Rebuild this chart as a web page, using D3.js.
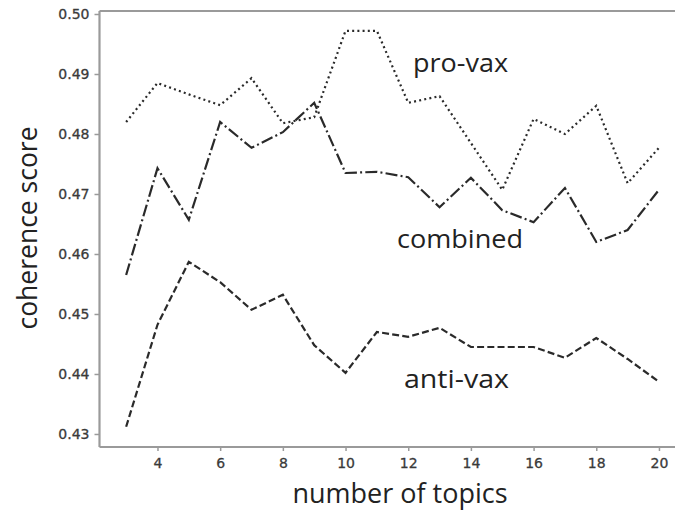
<!DOCTYPE html>
<html><head><meta charset="utf-8">
<script src="https://cdn.jsdelivr.net/npm/d3@7"></script>
<style>body{margin:0;background:#fff;}svg{display:block;}</style>
</head><body>
<script>
const topics = [3,4,5,6,7,8,9,10,11,12,13,14,15,16,17,18,19,20];
const proVax = [0.4820,0.4885,0.4866,0.4848,0.4893,0.4818,0.4828,0.4972,0.4972,0.4852,0.4863,0.4785,0.4707,0.4825,0.4800,0.4847,0.4718,0.4777];
const combined = [0.4565,0.4743,0.4657,0.4820,0.4777,0.4803,0.4852,0.4735,0.4737,0.4728,0.4678,0.4727,0.4673,0.4653,0.4710,0.4620,0.4640,0.4707];
const antiVax = [0.4312,0.4482,0.4587,0.4553,0.4507,0.4532,0.4448,0.4402,0.4470,0.4462,0.4477,0.4445,0.4445,0.4445,0.4427,0.4460,0.4425,0.4387];
const xTicks = [4,6,8,10,12,14,16,18,20];
const yTicks = [0.43,0.44,0.45,0.46,0.47,0.48,0.49,0.50];
const seriesLabels = ["pro-vax","combined","anti-vax"];

const W=675,H=511;
const svg=d3.select("body").append("svg").attr("width",W).attr("height",H);
const x=d3.scaleLinear().domain([2.15,20.85]).range([99.5,685.6]);
const y=d3.scaleLinear().domain([0.42783,0.5005]).range([447,11]);
const spine="#9a9a9a";

// axes
const xa=svg.append("g").attr("transform","translate(0,447)")
  .call(d3.axisBottom(x).tickValues(xTicks).tickFormat(d3.format("d")).tickSize(4).tickPadding(7));
const ya=svg.append("g").attr("transform","translate(99.5,0)")
  .call(d3.axisLeft(y).tickValues(yTicks).tickFormat(d3.format(".2f")).tickSize(5).tickPadding(5));
[xa,ya].forEach(g=>{
  g.select(".domain").remove();
  g.selectAll(".tick line").attr("stroke",spine).attr("stroke-width",1.5);
  g.selectAll(".tick text").attr("fill","#3a3a3a").attr("stroke","#3a3a3a").attr("stroke-width",0.3)
    .style("font-family","DejaVu Sans").style("font-size","14px");
});
// spines
svg.append("line").attr("x1",99.5).attr("x2",99.5).attr("y1",11).attr("y2",447).attr("stroke",spine).attr("stroke-width",2.2);
svg.append("line").attr("x1",99.5).attr("x2",W).attr("y1",447).attr("y2",447).attr("stroke",spine).attr("stroke-width",2.2);
svg.append("line").attr("x1",99.5).attr("x2",W).attr("y1",11).attr("y2",11).attr("stroke",spine).attr("stroke-width",2.2);

const line=d3.line().x((d,i)=>x(topics[i])).y(d=>y(d));
const styles=[
  {data:proVax,dash:"2,3.2"},
  {data:combined,dash:"12,3.2,2,3.2"},
  {data:antiVax,dash:"7,3.2"}
];
styles.forEach(s=>{
  svg.append("path").datum(s.data).attr("d",line).attr("fill","none")
    .attr("stroke","#2a2a2a").attr("stroke-width",2.2).attr("stroke-dasharray",s.dash);
});

const lf="'Open Sans', Lato, sans-serif";
const labelPos=[[413,72,95],[397,248,126],[404,388,105]];
seriesLabels.forEach((t,i)=>{
  svg.append("text").attr("x",labelPos[i][0]).attr("y",labelPos[i][1])
    .attr("textLength",labelPos[i][2]).attr("lengthAdjust","spacingAndGlyphs")
    .style("font-family",lf).style("font-size","25px").style("font-weight",500).attr("fill","#222").text(t);
});
svg.append("text").attr("transform","translate(37,228) rotate(-90)").attr("text-anchor","middle")
  .attr("textLength",203).attr("lengthAdjust","spacingAndGlyphs")
  .style("font-family",lf).style("font-size","27px").style("font-weight",500).attr("fill","#222").text("coherence score");
svg.append("text").attr("x",400).attr("y",503).attr("text-anchor","middle")
  .attr("textLength",215).attr("lengthAdjust","spacingAndGlyphs")
  .style("font-family",lf).style("font-size","27px").style("font-weight",500).attr("fill","#222").text("number of topics");
</script>
</body></html>
